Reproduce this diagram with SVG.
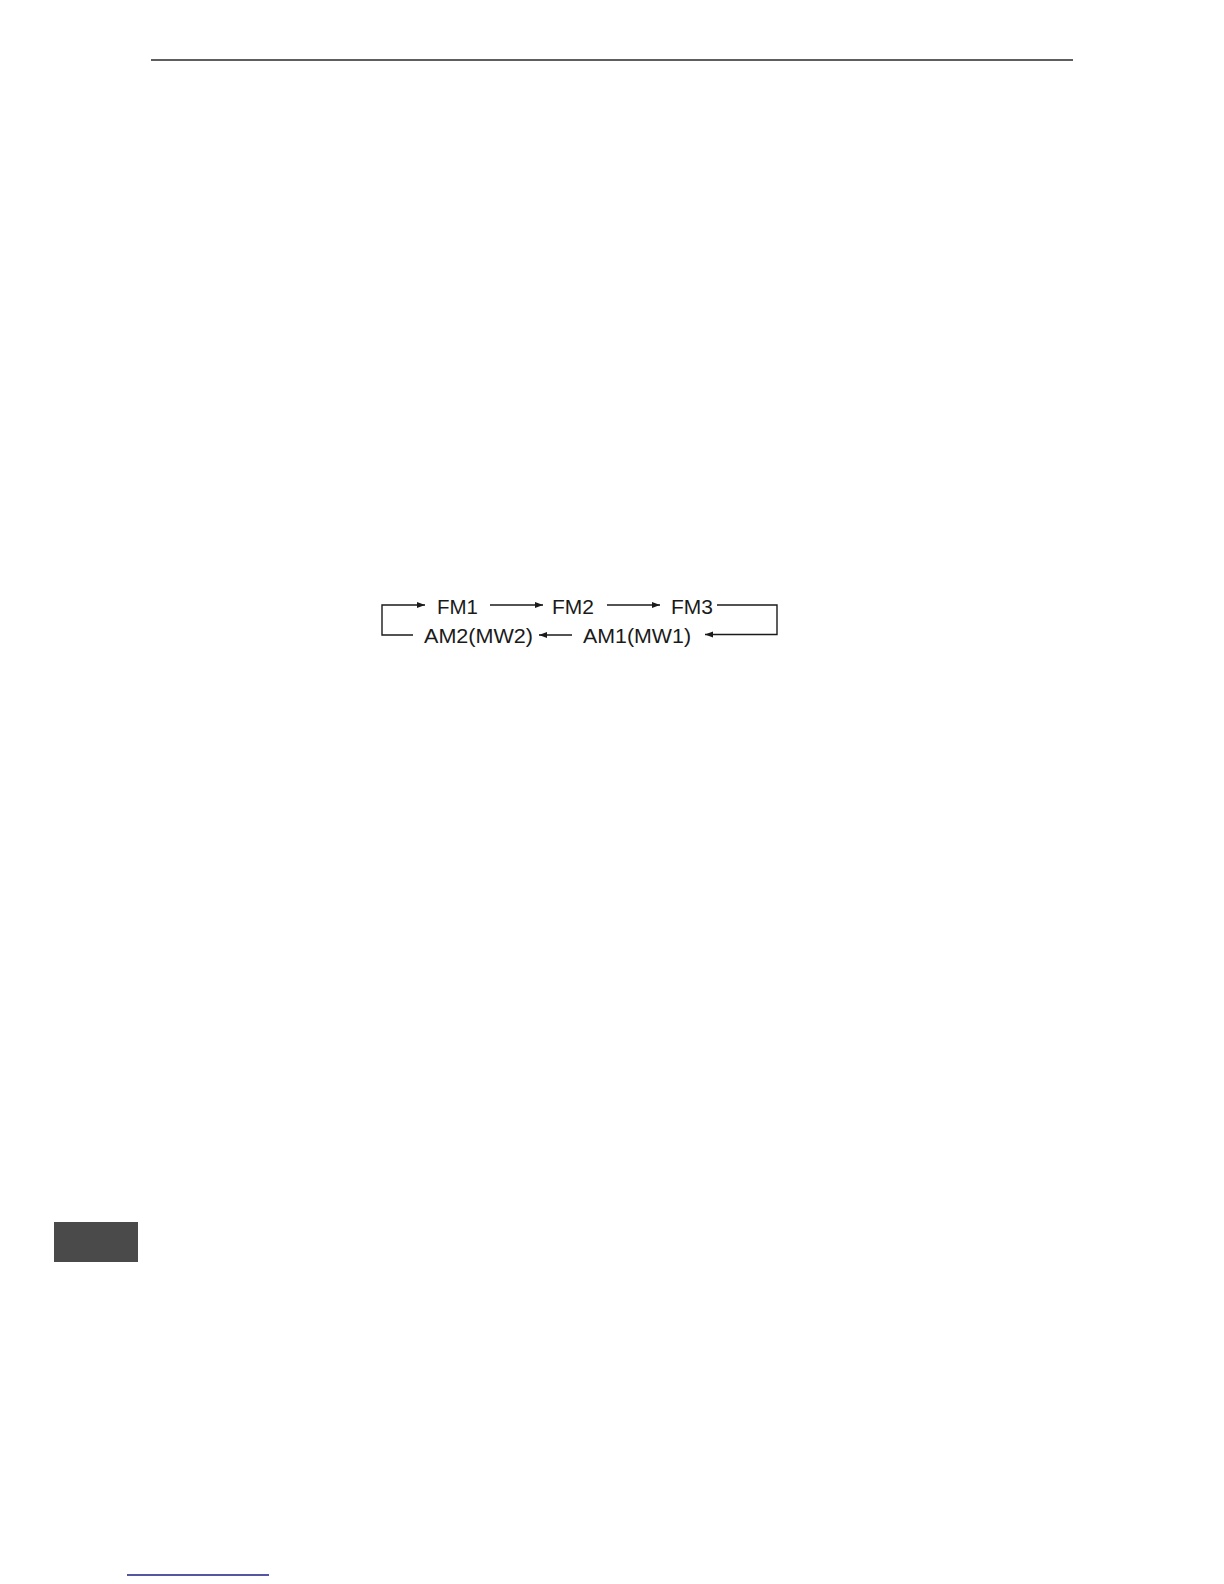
<svg xmlns="http://www.w3.org/2000/svg" width="1224" height="1584" viewBox="0 0 1224 1584">
  <style>
    .lbl { font-family: "Liberation Sans", Arial, sans-serif; font-size: 20px; fill: #1a1a1a; }
    .conn { fill: none; stroke: #1a1a1a; stroke-width: 1.4; }
  </style>
  <defs>
    <marker id="arrow" markerUnits="userSpaceOnUse" markerWidth="9" markerHeight="7" refX="8" refY="3.5" orient="auto">
      <path d="M0,0.5 L8,3.5 L0,6.5 Z" fill="#1a1a1a"/>
    </marker>
  </defs>
  <rect width="1224" height="1584" fill="#ffffff"/>
  <line x1="151" y1="60" x2="1073" y2="60" stroke="#5e5e5e" stroke-width="2"/>
  <rect x="54" y="1222" width="84" height="40" fill="#4a4a4a"/>
  <line x1="127" y1="1575" x2="269" y2="1575" stroke="#1c1c80" stroke-width="1.5"/>

  <g id="connectors">
    <path class="conn" d="M413,635 H382 V605 H425" marker-end="url(#arrow)"/>
    <path class="conn" d="M490,605 H543" marker-end="url(#arrow)"/>
    <path class="conn" d="M607,605 H660" marker-end="url(#arrow)"/>
    <path class="conn" d="M717,605 H777 V634.5 H705" marker-end="url(#arrow)"/>
    <path class="conn" d="M572,635 H539" marker-end="url(#arrow)"/>
  </g>
  <g id="FM1"><text class="lbl" x="437" y="614" textLength="41" lengthAdjust="spacingAndGlyphs">FM1</text></g>
  <g id="FM2"><text class="lbl" x="552" y="614" textLength="42" lengthAdjust="spacingAndGlyphs">FM2</text></g>
  <g id="FM3"><text class="lbl" x="671" y="614" textLength="42" lengthAdjust="spacingAndGlyphs">FM3</text></g>
  <g id="AM1"><text class="lbl" x="583" y="643" textLength="108" lengthAdjust="spacingAndGlyphs">AM1(MW1)</text></g>
  <g id="AM2"><text class="lbl" x="424" y="643" textLength="109" lengthAdjust="spacingAndGlyphs">AM2(MW2)</text></g>
</svg>
